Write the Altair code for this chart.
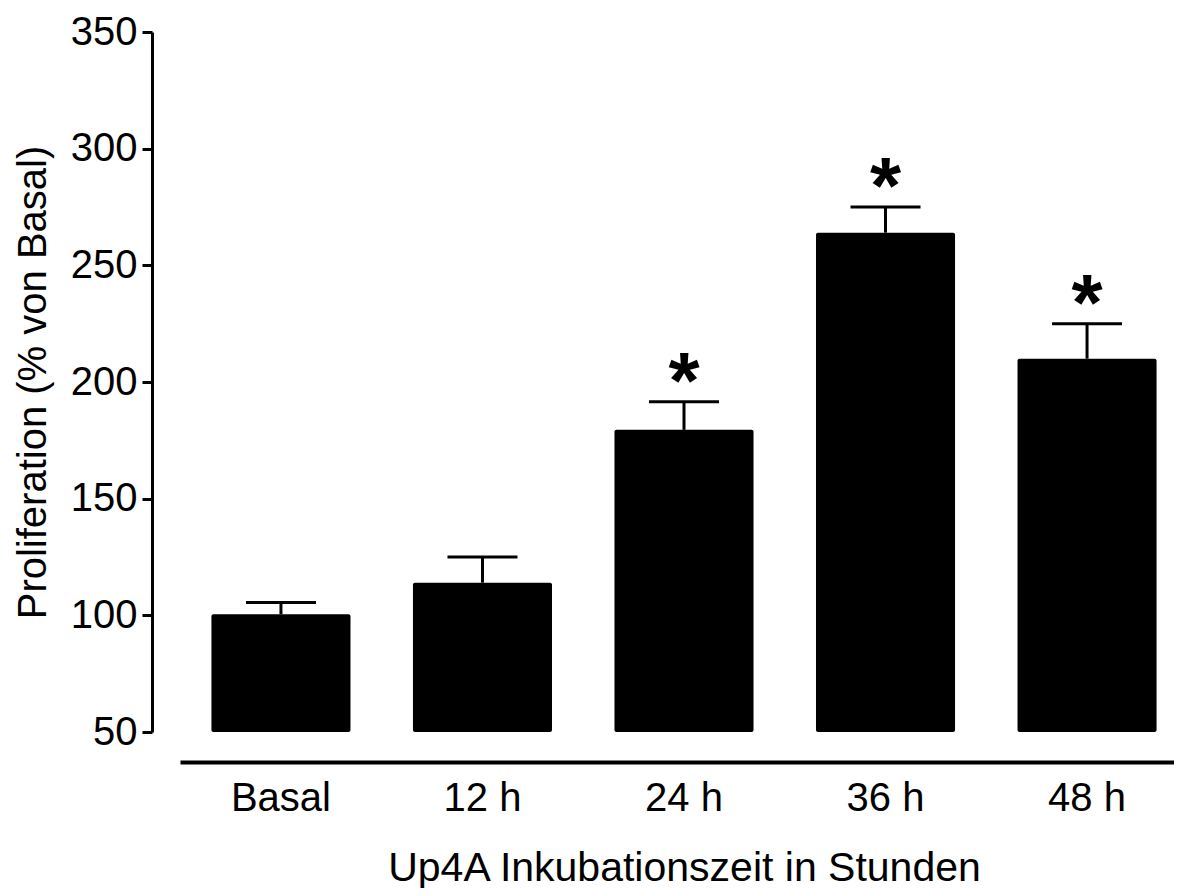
import altair as alt
import pandas as pd

categories = ["Basal", "12 h", "24 h", "36 h", "48 h"]
means = [100.5, 114, 179.5, 264, 210]
sem = [5, 11, 12, 11, 15]
stars = ["", "", "*", "*", "*"]

df = pd.DataFrame({"cat": categories, "mean": means, "sem": sem, "star": stars})

FONT = "Liberation Sans"

x_scale = alt.Scale(range=[0, 1008], paddingInner=0.31, paddingOuter=0.156)
y_scale = alt.Scale(domain=[50, 350], zero=False, nice=False)

x_axis = alt.Axis(
    title="Up4A Inkubationszeit in Stunden",
    offset=30, domainWidth=4, domainColor="black", ticks=False,
    labelFontSize=40, labelFont=FONT, labelColor="black", labelAngle=0,
    labelPadding=48, labelBaseline="alphabetic",
    titleFontSize=41, titleFont=FONT, titleColor="black", titleFontWeight="normal",
    titleY=118, titleX=504, titleBaseline="alphabetic", grid=False,
)
y_axis = alt.Axis(
    title="Proliferation (% von Basal)",
    values=[50, 100, 150, 200, 250, 300, 350],
    offset=28, domainWidth=3, domainColor="black",
    tickWidth=3, tickSize=10, tickColor="black",
    labelFontSize=40, labelFont=FONT, labelColor="black", labelPadding=5,
    titleFontSize=40, titleFont=FONT, titleColor="black", titleFontWeight="normal",
    titleX=-107, titleBaseline="alphabetic", titleAngle=270, grid=False,
)

base = alt.Chart(df).transform_calculate(upper="datum.mean + datum.sem")

bars = base.mark_bar(color="black", cornerRadius=2).encode(
    x=alt.X("cat:N", sort=categories, scale=x_scale, axis=x_axis),
    y=alt.Y("mean:Q", scale=y_scale, axis=y_axis),
    y2=alt.datum(50),
)

stems = base.mark_rule(color="black", strokeWidth=3).encode(
    x=alt.X("cat:N", sort=categories, scale=x_scale),
    y=alt.Y("mean:Q", scale=y_scale),
    y2="upper:Q",
)

caps = base.mark_tick(color="black", size=70, thickness=3, opacity=1).encode(
    x=alt.X("cat:N", sort=categories, scale=x_scale),
    y=alt.Y("upper:Q", scale=y_scale),
)

star_marks = base.transform_filter("datum.star != ''").mark_text(
    font=FONT, fontSize=80, fontWeight="bold", color="black",
    baseline="alphabetic", dy=6,
).encode(
    x=alt.X("cat:N", sort=categories, scale=x_scale),
    y=alt.Y("upper:Q", scale=y_scale),
    text="star:N",
)

chart = alt.layer(bars, stems, caps, star_marks).properties(
    width=994, height=700,
    autosize=alt.AutoSizeParams(type="none"),
    padding={"left": 172, "top": 24, "right": 0, "bottom": 156},
).configure_view(stroke=None)

chart.save("out.html", embed_options={"renderer": "svg", "actions": False})
